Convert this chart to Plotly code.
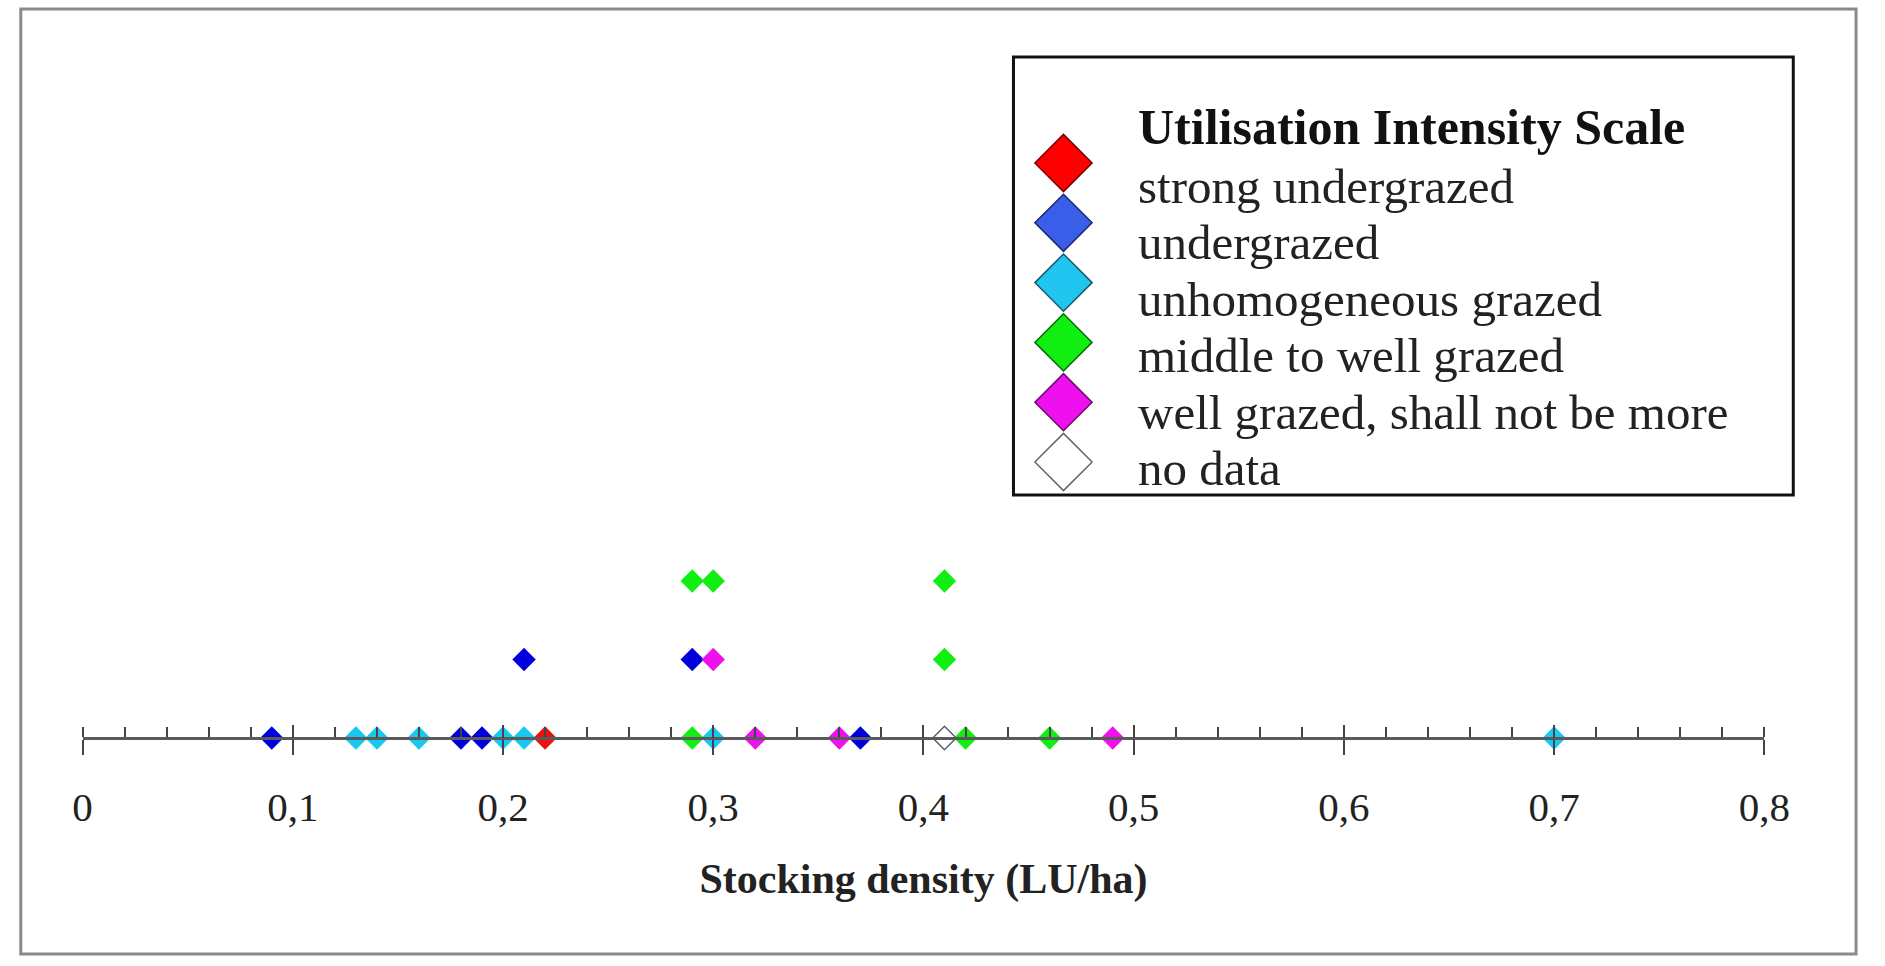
import plotly.graph_objects as go

# ---------------- data ----------------
categories = ["strong undergrazed", "undergrazed", "unhomogeneous grazed",
              "middle to well grazed", "well grazed, shall not be more", "no data"]
legend_title = "Utilisation Intensity Scale"

strong_x = [0.22]
strong_row = [0]
under_x = [0.09, 0.18, 0.19, 0.37, 0.21, 0.29]
under_row = [0, 0, 0, 0, 1, 1]
unhom_x = [0.13, 0.14, 0.16, 0.20, 0.21, 0.30, 0.70]
unhom_row = [0, 0, 0, 0, 0, 0, 0]
middle_x = [0.29, 0.42, 0.46, 0.41, 0.29, 0.30, 0.41]
middle_row = [0, 0, 0, 1, 2, 2, 2]
well_x = [0.32, 0.36, 0.49, 0.30]
well_row = [0, 0, 0, 1]
nodata_x = [0.41]
nodata_row = [0]

tick_values = [0, 0.1, 0.2, 0.3, 0.4, 0.5, 0.6, 0.7, 0.8]
x_title = "Stocking density (LU/ha)"

# ---------------- styles ----------------
plot_colors = ["#ee1111", "#0000dd", "#16c8f2", "#11ee11", "#ee11ee", "#ffffff"]
legend_colors = ["#ff0000", "#3a5ee8", "#20c6f0", "#11ee11", "#ee11ee", "#ffffff"]
legend_lines = ["#7a0000", "#1a2a70", "#1a5a70", "#0a6a0a", "#6a0a6a", "#666666"]
FONT = "Liberation Serif, Times New Roman, serif"
W, H = 1885, 966


def px(x):
    return x / W


def py(y):
    return 1 - y / H


series = [(strong_x, strong_row), (under_x, under_row), (unhom_x, unhom_row),
          (middle_x, middle_row), (well_x, well_row), (nodata_x, nodata_row)]

pts = []
for ci, (xs, rs) in enumerate(series):
    for xv, rv in zip(xs, rs):
        pts.append((xv, rv, ci))
pts.sort(key=lambda p: (p[0], p[2] != 5))

fig = go.Figure()
fig.add_trace(go.Scatter(
    x=[p[0] for p in pts], y=[p[1] for p in pts], mode="markers",
    marker=dict(symbol="diamond", size=18,
                color=[plot_colors[p[2]] for p in pts],
                line=dict(color=["#556070" if p[2] == 5 else "rgba(0,0,0,0)" for p in pts],
                          width=[1.5 if p[2] == 5 else 0 for p in pts])),
    showlegend=False, hoverinfo="x", xaxis="x", yaxis="y"))

# empty trace creating the overlay axis that draws the upper half of major ticks
fig.add_trace(go.Scatter(x=[], y=[], xaxis="x3", yaxis="y", showlegend=False))

# custom legend symbols (index-based axis)
fig.add_trace(go.Scatter(
    x=[0] * len(categories), y=list(range(len(categories))), mode="markers",
    marker=dict(symbol="diamond", size=44, color=legend_colors,
                line=dict(color=legend_lines, width=1.5)),
    showlegend=False, hoverinfo="skip", xaxis="x2", yaxis="y2"))

x0_pix, x8_pix = 74.0, 1788.5
axis_y_pix = 738.0
row_sp = 78.5
r_top = axis_y_pix / row_sp
r_bot = r_top - H / row_sp
dom = [x0_pix / W, x8_pix / W]

common_x = dict(range=[0, 0.8], domain=dom, anchor="free", position=1 - axis_y_pix / H,
                showgrid=False, zeroline=False, fixedrange=True)

leg_x = 1074.0
leg_y0 = 163.0
leg_sp = 59.8
l_top = -leg_y0 / leg_sp
l_bot = l_top + H / leg_sp

fig.update_layout(
    width=W, height=H, autosize=False,
    margin=dict(l=0, r=0, t=0, b=0, pad=0),
    paper_bgcolor="white", plot_bgcolor="rgba(0,0,0,0)",
    separators=",.",
    font=dict(family=FONT, color="#222222"),
    xaxis=dict(**common_x, showline=True, linecolor="#5a5a5a", linewidth=2.5,
               ticks="outside", ticklen=15, tickwidth=2, tickcolor="#444444",
               tickvals=tick_values, tickfont=dict(family=FONT, size=41, color="#222222"),
               ticklabelstandoff=17,
               minor=dict(ticks="inside", ticklen=10, tickwidth=1.5, tickcolor="#444444",
                          dtick=0.02, tick0=0, showgrid=False),
               title=dict(text="<b>" + x_title + "</b>",
                          font=dict(family=FONT, size=42, color="#222222"), standoff=34)),
    xaxis3=dict(**common_x, overlaying="x", showline=False, ticks="inside", ticklen=13,
                tickwidth=2, tickcolor="#444444", tickvals=tick_values, showticklabels=False),
    yaxis=dict(range=[r_bot, r_top], domain=[0, 1], visible=False, fixedrange=True),
    xaxis2=dict(range=[-leg_x, W - leg_x], domain=[0, 1], visible=False, anchor="y2",
                fixedrange=True),
    yaxis2=dict(range=[l_bot, l_top], domain=[0, 1], visible=False, anchor="x2",
                fixedrange=True),
)

shapes = [
    dict(type="rect", xref="paper", yref="paper", x0=px(11), x1=px(1882),
         y0=py(954), y1=py(9), line=dict(color="#8a8a8a", width=3),
         fillcolor="rgba(0,0,0,0)", layer="below"),
    dict(type="rect", xref="paper", yref="paper", x0=px(1023), x1=px(1818),
         y0=py(495), y1=py(57), line=dict(color="#111111", width=3),
         fillcolor="rgba(0,0,0,0)", layer="below"),
]
fig.update_layout(shapes=shapes)

text_x = 1148.0
ann = [dict(text="<b>" + legend_title + "</b>", xref="paper", yref="paper",
            x=px(text_x), y=py(127), xanchor="left", yanchor="middle",
            showarrow=False, font=dict(family=FONT, size=50, color="#111111"))]
text_y0, text_sp = 186.0, 56.6
for i, c in enumerate(categories):
    ann.append(dict(text=c, xref="paper", yref="paper", x=px(text_x),
                    y=py(text_y0 + i * text_sp), xanchor="left", yanchor="middle",
                    showarrow=False, font=dict(family=FONT, size=49, color="#222222")))
fig.update_layout(annotations=ann)

fig.write_html("out.html", config={"displayModeBar": False},
               post_script="document.documentElement.style.margin='0';"
                           "document.body.style.margin='0';"
                           "document.body.style.overflow='hidden';")
